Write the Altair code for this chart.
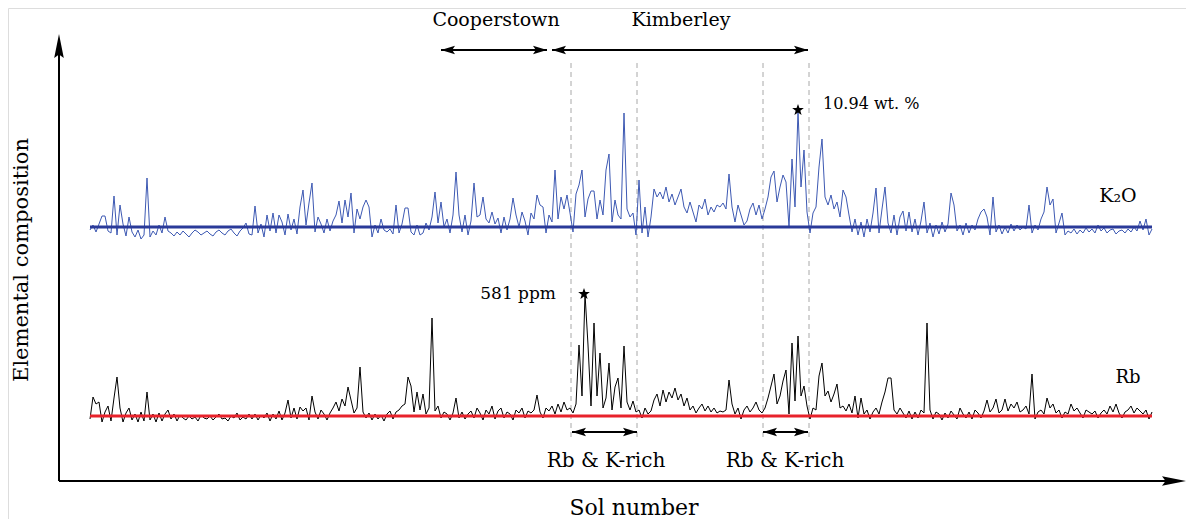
import altair as alt
import pandas as pd

# ---------------- data ----------------
STEP = 3  # sol spacing between consecutive measurements
K2O_OFFSET = 284  # vertical stacking offset of the K2O trace
RB_OFFSET = 95    # vertical stacking offset of the Rb trace

k2o = [
    -3, 2, -5, 3, 11, 11, -4,
    -6, 31, -8, 22, 3, -9, 10, -5, -10, -3, -12, -8, 49, -10, -4, -8, 2, -6, 10, -4,
    -6, -9, -5, -8, -4, -7, -10, -6, -3, -5, -8, -6, -4, -7, -9, -5, -3, -6, -8, -4, -2, -6, -9, -4, -1, 4, -7,
    -8, 21, -6, 3, -10, 12, -4, 14, -6, 12, 5, -8, 13, -3, 8, -7, 20, 37, 2, 24, 44, -5, 10, 3, -6, 8, -4, 6, 12, 26, 4, 27, 10, 34, -6, 18, 8, 20,
    27, 20, -10, 2, -6, 8, -3, -5, -2, -7, 22, -6, 3, 19, 19, -5, -8, 2, -8, -6,
    4, -3, 10, 35, 4, 25, 0, 8, -6, 12, 55, 12, -5, 12, -8, 6, 44, 10, 12, 30,
    8, 4, 15, 3, 9, -6, 10, -3, 8, 29, 12, 0, 15, 6, -8, 14, 8, 32, 22, 20,
    -6, 12, 5, 57, 8, 30, 18, 32, 14,
    -5, 33, 42, 57, 10, 28, 36, 36, 8, 27, 12, 57, 73, 5, 27, 12, 8, 114, 18, 10, 14, -8,
    47, -6, 20, -10, 10, 38, 30, 35, 28, 40, 25, 33, 22, 30, 38, 20, 14, 25, 15, 5,
    22, 18, 28, 12, 20, 15, 22, 20, 24, 18, 53, 20, 5, 22, 12, 2, 6, 18, 24, 12, 22, 8,
    18, 30, 50, 56, 25, 40, 52, 45, 0, 68, 20, 116, 40, 77, 15,
    -6, 14, 20, 60, 88, 30, 22, 32, 18, 25, 10, 37, 30, 12, -5, 8, -8, 5, -10, 8,
    -5, 14, 39, -6, 18, 40, 4, -6, 12, -8, 10, 16, -4, 15,
    -5, 8, -8, 6, 25, -6, 4, -10, 2, -7, 5, -5, 3, 34, 22, -4, 2, -8, 4, -6,
    2, -3, 8, 15, 18, 10, -8, 30, -5, 2, -7, 0, -6, 3, -4, 2, -3, 0, -2, 22,
    -6, 2, -3, 8, 15, 40, 22, 28, -6, 4, 14, -8, -4, -6, -2, -7, -3, -6, -1, -5,
    -2, -6, 2, -4, -1, -6, -3, -2, -7, -4, -3, -6, -2, -5, 0, -4, 6, -3, 8, -8, -2,
]

rb = [
    -3, 19, 12, 14, -6, 4, 10,
    -5, 18, 39, 8, -6, 3, 8, -4, 2, -6, 4, -5, 24, -4, 2, -6, 3, -5, 2, 6,
    -3, 2, -5, 1, -2, -4, 0, -3, -1, -5, 1, -2, -3, 0, -4, -1, 2, -3, -2, -5, 0, -2, 3, -4, -1, -3, 2,
    -3, 2, -4, 1, -2, 3, -5, 2, -3, 5, -4, 3, 16, -2, 8, -3, 9, 5, 8, -4, 20, 4, -3, 6, 2, -4, 3, 8, 14, 5, 17, 10, 29, 16, 3, 8, 49, 4,
    -2, 3, -4, 2, -3, 1, -5, 2, 5, -3, 4, 6, 10, 12, 39, 30, 4, 24, 6, 22,
    2, 8, 98, 5, 10, -2, 4, 2, -4, 3, 18, -2, 4, -3, 2, 5, -2, 8, 3, -4,
    6, 2, 10, -3, 5, 8, -2, 4, 2, -4, 6, 3, 8, -2, 5, 3, 6, 21, 4, -2,
    8, 5, 10, 2, 12, 4, 14, 6, 8,
    3, 12, 71, 20, 122, 71, 10, 93, 20, 63, 8, 18, 53, 6, 29, 38, 8, 70, 14, 6, 15, 4,
    6, -2, 8, 2, 5, 16, 22, 10, 26, 14, 24, 18, 28, 16, 22, 10, 18, 6, 10, 3,
    8, 12, 5, 10, 4, 8, 3, 5, 4, 6, 36, 12, 2, 8, -3, 6, 10, 4, 8, 14, 6, 3,
    8, 18, 30, 42, 12, 20, 35, 46, 2, 73, 15, 80, 20, 30, 10,
    -3, 8, 6, 40, 53, 20, 25, 14, 22, 32, 8, 10, 5, 12, 3, 20, -2, 18, 2, 6,
    -3, 4, 8, 2, 14, 24, 38, 38, 6, 2, 8, 3, -2, 5,
    -3, 4, -2, 6, 3, 93, 6, -3, 4, 2, -4, 3, -2, 5, 1, -3, 8, 2, -2, 4,
    -3, 6, 3, -2, 5, 16, 4, 8, 17, 3, 6, 17, 5, 12, 8, 14, 4, 6, 10, 2,
    42, -3, 4, 6, 2, 18, 8, 12, 3, 6, -2, 4, 2, 12, 5, 8, 3, -2, 6, 4,
    2, 5, -2, 3, 6, 2, 10, 4, 12, 3, -2, 4, 6, 10, 3, 8, 5, 2, 6, -3, 4,
]

# region boundaries (sol), annotation labels
dashed_sols = [481, 547, 673, 719]
region_labels = ["Cooperstown", "Kimberley"]
rich_label = "Rb & K-rich"

# ---------------- frames ----------------
sols = [i * STEP for i in range(len(k2o))]
series = pd.DataFrame({
    "sol": sols * 2,
    "val": [v + K2O_OFFSET for v in k2o] + [v + RB_OFFSET for v in rb],
    "s": ["K2O"] * len(k2o) + ["Rb"] * len(rb),
})
end_sol = sols[-1]

xs = alt.Scale(domain=[-82, 1096], nice=False, zero=False)
ys = alt.Scale(domain=[-8, 503], nice=False, zero=False)

SERIF = "DejaVu Serif"


def X(f, t="Q"):
    return alt.X(f"{f}:{t}", scale=xs, axis=None)


def Y(f, t="Q"):
    return alt.Y(f"{f}:{t}", scale=ys, axis=None)


k2o_line = alt.Chart(series[series.s == "K2O"]).mark_line(
    color="#3D59B3", strokeWidth=1, interpolate="linear"
).encode(x=X("sol"), y=Y("val"), order="sol:Q")

rb_line = alt.Chart(series[series.s == "Rb"]).mark_line(
    color="#000000", strokeWidth=1, interpolate="linear"
).encode(x=X("sol"), y=Y("val"), order="sol:Q")

base_df = pd.DataFrame({
    "x1": [0, 0], "x2": [end_sol, end_sol], "y": [K2O_OFFSET, RB_OFFSET],
    "c": ["#2A3A99", "#E8222B"],
})
baselines = alt.Chart(base_df).mark_rule(strokeWidth=3.2).encode(
    x=X("x1"), x2="x2:Q", y=Y("y"), color=alt.Color("c:N", scale=None)
)

dash_df = pd.DataFrame({"x": dashed_sols, "y1": [448] * 4, "y2": [71] * 4})
dashes = alt.Chart(dash_df).mark_rule(
    color="#A8A8A8", strokeWidth=1, strokeDash=[5, 4]
).encode(x=X("x"), y=Y("y1"), y2="y2:Q")

# axes (as arrows)
axes_df = pd.DataFrame({
    "x1": [-31, -31], "x2": [-31, 1080], "y1": [30, 30], "y2": [460, 30],
})
axes_lines = alt.Chart(axes_df).mark_rule(color="black", strokeWidth=2).encode(
    x=X("x1"), x2="x2:Q", y=Y("y1"), y2="y2:Q"
)
up_head = alt.Chart(pd.DataFrame({"x": [-31], "y": [465]})).mark_point(
    shape="M0,-1L0.4,1L0,0.7L-0.4,1Z", size=576, filled=True, color="black", opacity=1
).encode(x=X("x"), y=Y("y"))
right_axis_head = alt.Chart(pd.DataFrame({"x": [1084], "y": [30]})).mark_point(
    shape="M1,0L-1,-0.4L-0.7,0L-1,0.4Z", size=576, filled=True, color="black", opacity=1
).encode(x=X("x"), y=Y("y"))

# double headed arrows
arr_df = pd.DataFrame({
    "x1": [351, 462, 482, 673], "x2": [457, 718, 547, 718], "y": [461, 461, 79, 79],
})
arr_shafts = alt.Chart(arr_df).mark_rule(color="black", strokeWidth=2).encode(
    x=X("x1"), x2="x2:Q", y=Y("y")
)
left_heads = alt.Chart(arr_df.assign(h=arr_df.x1 + 7)).mark_point(
    shape="M-1,0L1,-0.62L0.6,0L1,0.62Z", size=196, filled=True, color="black", opacity=1
).encode(x=X("h"), y=Y("y"))
right_heads = alt.Chart(arr_df.assign(h=arr_df.x2 - 7)).mark_point(
    shape="M1,0L-1,-0.62L-0.6,0L-1,0.62Z", size=196, filled=True, color="black", opacity=1
).encode(x=X("h"), y=Y("y"))

STAR = ("M0,-1L0.235,-0.324L0.951,-0.309L0.38,0.124L0.588,0.809L0,0.4"
        "L-0.588,0.809L-0.38,0.124L-0.951,-0.309L-0.235,-0.324Z")
stars = alt.Chart(pd.DataFrame({"x": [708, 494], "y": [401, 217]})).mark_point(
    shape=STAR, size=150, filled=True, color="black", opacity=1
).encode(x=X("x"), y=Y("y"))


def txt(t, x, y, size, align="center", angle=0, baseline="middle"):
    return alt.Chart(pd.DataFrame({"x": [x], "y": [y], "t": [t]})).mark_text(
        font=SERIF, fontSize=size, align=align, baseline=baseline, color="black",
        angle=angle,
    ).encode(x=X("x"), y=Y("y"), text="t:N")


texts = [
    txt(region_labels[0], 406, 491, 19),
    txt(region_labels[1], 591, 491, 19),
    txt("10.94 wt. %", 733, 407, 16),
    txt("581 ppm", 466, 217, 17, align="right"),
    txt("K₂O", 1028, 315, 19),
    txt("Rb", 1038, 133, 18),
    txt(rich_label, 516, 50, 20),
    txt(rich_label, 695, 50, 20),
    txt("Sol number", 544, -4, 22, baseline="alphabetic"),
    txt("Elemental composition", -68, 251, 21, angle=270),
]
texts[2] = txt("10.94 wt. %", 733, 407, 16, align="left")

chart = alt.layer(
    dashes, k2o_line, rb_line, baselines, axes_lines, up_head, right_axis_head,
    arr_shafts, left_heads, right_heads, stars, *texts
).properties(
    width=1178, height=511, padding=0,
    autosize=alt.AutoSizeParams(type="none"),
).configure_view(stroke=None).configure(background="white")

chart.save("out.html", embed_options={"renderer": "svg", "actions": False})
